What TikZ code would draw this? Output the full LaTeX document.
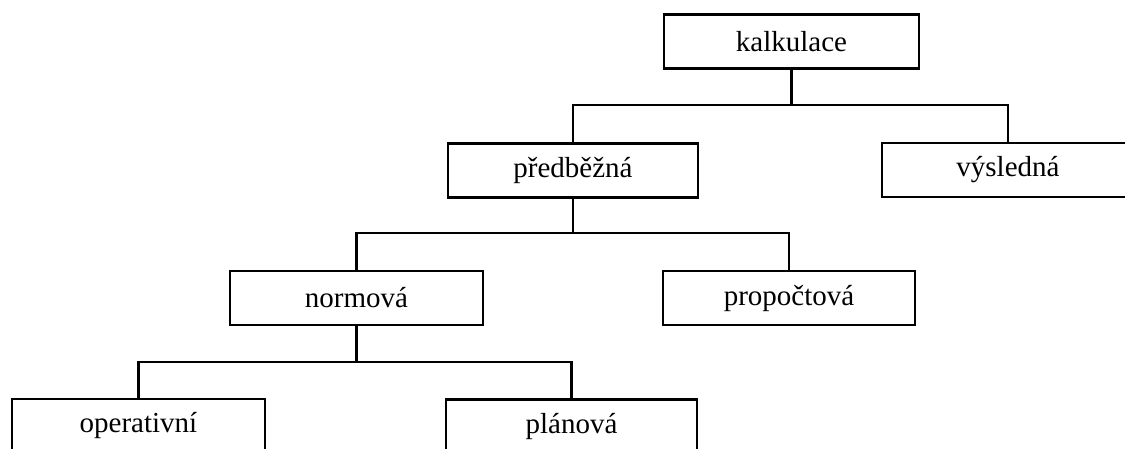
\documentclass[tikz,border=0pt]{standalone}
\usepackage{fontspec}
\setmainfont{Liberation Serif}
\begin{document}
\begin{tikzpicture}[x=1pt,y=-1pt,
  box/.style={draw=black,line width=2.6pt,rectangle,minimum width=252pt,minimum height=54pt,inner sep=0pt,font=\fontsize{29}{32}\selectfont},
  conn/.style={draw=black,line width=2.4pt}]
\useasboundingbox (0,0) rectangle (1125,449);
\clip (0,0) rectangle (1125,449);
\node[box,minimum width=255pt] (k) at (791.5,41.5) {kalkulace};
\node[box,minimum width=250pt] (p) at (573,170.5) {předběžná};
\node[box] (v) at (1008,170) {výsledná};
\node[box,minimum width=253pt] (n) at (356.5,298) {normová};
\node[box] (pr) at (789,298) {propočtová};
\node[box,minimum width=253pt] (o) at (138.5,426) {operativní};
\node[box,minimum width=251pt] (pl) at (571.5,426.5) {plánová};
\coordinate (j1) at (791.5,105);
\coordinate (j2) at (573,233);
\coordinate (j3) at (356.5,362);
\draw[conn] (k.south) -- (j1);
\draw[conn] (p.north) |- (j1) -| (v.north);
\draw[conn] (p.south) -- (j2);
\draw[conn] (n.north) |- (j2) -| (pr.north);
\draw[conn] (n.south) -- (j3);
\draw[conn] (o.north) |- (j3) -| (pl.north);
\end{tikzpicture}
\end{document}
